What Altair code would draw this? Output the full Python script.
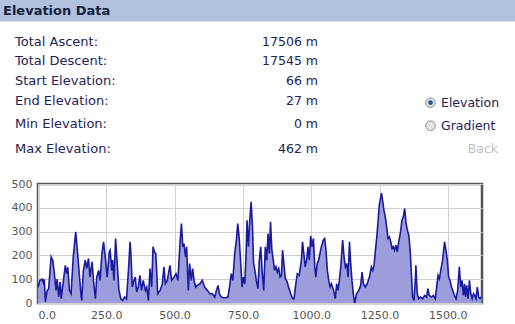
import altair as alt
import pandas as pd

# ---- data ----
dist_km = [0, 7, 15, 20, 23, 27, 33, 39, 48, 54, 60, 66, 70, 76, 81, 85, 90, 100, 105, 109,
           115, 121, 129, 138, 145, 151, 157, 160, 166, 173, 178, 185, 190, 198, 203, 210, 215,
           222, 227, 234, 240, 246, 253, 261, 264, 270, 273, 278, 284, 290, 296, 303, 310, 317,
           324, 331, 337, 340, 345, 351, 356, 361, 367, 373, 379, 385, 393, 398, 404, 410, 416,
           421, 426, 431, 434, 438, 447, 455, 461, 466, 473, 483, 489, 498, 505, 512, 520, 525,
           530, 534, 540, 544, 550, 555, 561, 566, 571, 577, 583, 593, 601, 610, 620, 629, 638,
           647, 653, 659, 664, 671, 678, 687, 695, 701, 707, 713, 720, 726, 731, 736, 742, 747,
           752, 757, 762, 765, 770, 775, 780, 785, 789, 794, 799, 805, 810, 815, 821, 826, 832,
           837, 842, 847, 851, 856, 861, 866, 871, 876, 881, 886, 891, 895, 900, 905, 910, 917,
           925, 932, 937, 942, 949, 956, 964, 968, 973, 978, 983, 988, 993, 998, 1003, 1008,
           1013, 1017, 1022, 1027, 1032, 1037, 1044, 1049, 1054, 1059, 1064, 1069, 1074, 1082,
           1088, 1093, 1098, 1103, 1108, 1115, 1120, 1125, 1130, 1135, 1140, 1144, 1149, 1154,
           1159, 1166, 1174, 1181, 1186, 1191, 1198, 1205, 1213, 1220, 1225, 1230, 1235, 1240,
           1245, 1249, 1257, 1261, 1266, 1271, 1276, 1281, 1286, 1291, 1296, 1300, 1305, 1310,
           1315, 1320, 1326, 1332, 1337, 1342, 1347, 1352, 1357, 1362, 1366, 1371, 1376, 1381,
           1383, 1388, 1393, 1400, 1408, 1415, 1422, 1427, 1432, 1440, 1447, 1454, 1459, 1464,
           1469, 1474, 1479, 1484, 1488, 1493, 1498, 1503, 1508, 1513, 1518, 1524, 1530, 1536,
           1542, 1547, 1552, 1557, 1561, 1565, 1569, 1574, 1579, 1584, 1589, 1594, 1598, 1603,
           1608, 1613, 1618, 1623]
elev_m = [66, 95, 100, 85, 100, 5, 50, 60, 194, 180, 123, 53, 100, 25, 88, 18, 67, 158, 123, 150,
          53, 39, 194, 299, 208, 123, 39, 11, 137, 180, 145, 187, 109, 173, 95, 18, 109,
          137, 95, 208, 257, 194, 109, 215, 222, 137, 180, 95, 271, 166, 56, 18, 11, 25,
          18, 137, 257, 208, 67, 95, 109, 46, 67, 116, 53, 95, 53, 67, 11, 145, 67,
          236, 215, 208, 145, 39, 53, 81, 152, 81, 95, 158, 95, 109, 123, 95, 257, 334,
          236, 250, 194, 236, 53, 166, 95, 145, 95, 67, 74, 81, 95, 67, 53, 39, 39,
          25, 53, 74, 39, 25, 22, 22, 25, 67, 123, 95, 208, 264, 334, 278, 166, 67,
          109, 81, 222, 348, 236, 348, 425, 320, 166, 137, 95, 60, 180, 236, 123, 53, 236,
          180, 292, 208, 341, 222, 180, 137, 152, 130, 145, 109, 116, 222, 166, 102, 95, 67,
          39, 18, 18, 67, 123, 116, 180, 257, 208, 152, 180, 236, 180, 281, 236, 271,
          152, 109, 166, 180, 208, 236, 264, 271, 222, 137, 95, 67, 81, 53,
          18, 81, 53, 95, 152, 264, 194, 152, 166, 109, 257, 173, 95, 39,
          0, 39, 53, 74, 130, 81, 67, 81, 109, 152, 137, 158, 222, 278,
          348, 411, 462, 432, 390, 362, 320, 271, 278, 257, 229, 236, 222, 243,
          215, 257, 292, 348, 362, 397, 334, 306, 285, 222, 137, 25, 11, 95,
          158, 39, 18, 25, 18, 32, 25, 60, 32, 25, 32, 18, 67, 116,
          102, 137, 166, 215, 257, 222, 180, 109, 95, 67, 53, 32, 18, 53,
          152, 67, 95, 32, 81, 25, 74, 18, 95, 39, 18, 39, 32, 18,
          67, 25, 18, 27]

stat_labels = ["Total Ascent:", "Total Descent:", "Start Elevation:",
               "End Elevation:", "Min Elevation:", "Max Elevation:"]
stat_values = ["17506 m", "17545 m", "66 m", "27 m", "0 m", "462 m"]
radio_labels = ["Elevation", "Gradient"]
x_ticks = [0, 250, 500, 750, 1000, 1250, 1500]
y_ticks = [0, 100, 200, 300, 400, 500]

# ---- layout (pixels) ----
PL, PT = 38, 184          # plot origin in the window
W, H = 444, 119
row_y = [41.7, 61, 80.7, 101.3, 124.3, 149]
radio_y = [102.7, 125.7]
FONT = "DejaVu Sans"
TXT = "#1e2257"

df = pd.DataFrame({"dist": dist_km, "elev": elev_m})
one = pd.DataFrame({"k": [0]})

xenc = alt.X("dist:Q", scale=alt.Scale(domain=[0, 1625], nice=False),
             axis=alt.Axis(values=x_ticks, format=".1f", title=None))
yenc = alt.Y("elev:Q", scale=alt.Scale(domain=[0, 500], nice=False),
             axis=alt.Axis(values=y_ticks, title=None))

area = alt.Chart(df).mark_area(color="#9d9ddb", opacity=1).encode(x=xenc, y=yenc)
line = alt.Chart(df).mark_line(color="#1a1a9e", strokeWidth=1.6).encode(x=xenc, y=yenc)

layers = []
# header bar
layers.append(alt.Chart(one).mark_rect(color="#b1c3dc").encode(
    x=alt.value(-PL), x2=alt.value(515 - PL), y=alt.value(-PT), y2=alt.value(21.5 - PT)))
layers.append(alt.Chart(pd.DataFrame({"t": ["Elevation Data"]})).mark_text(
    align="left", baseline="middle", font=FONT, fontSize=13, fontWeight="bold",
    color="#14213f").encode(x=alt.value(3 - PL), y=alt.value(11 - PT), text="t:N"))

for i in range(len(stat_labels)):
    layers.append(alt.Chart(pd.DataFrame({"t": [stat_labels[i]]})).mark_text(
        align="left", baseline="middle", font=FONT, fontSize=13, color=TXT).encode(
        x=alt.value(15 - PL), y=alt.value(row_y[i] - PT), text="t:N"))
    layers.append(alt.Chart(pd.DataFrame({"t": [stat_values[i]]})).mark_text(
        align="right", baseline="middle", font=FONT, fontSize=12.5, color=TXT).encode(
        x=alt.value(318 - PL), y=alt.value(row_y[i] - PT), text="t:N"))

for i in range(len(radio_labels)):
    layers.append(alt.Chart(one).mark_point(
        shape="circle", filled=True, fill="#e6e6e6", stroke="#8a8a8a",
        strokeWidth=1, size=90, opacity=1).encode(
        x=alt.value(430.5 - PL), y=alt.value(radio_y[i] - PT)))
    layers.append(alt.Chart(pd.DataFrame({"t": [radio_labels[i]]})).mark_text(
        align="left", baseline="middle", font=FONT, fontSize=12.5, color=TXT).encode(
        x=alt.value(441 - PL), y=alt.value(radio_y[i] - PT), text="t:N"))
layers.append(alt.Chart(one).mark_point(
    shape="circle", filled=True, color="#1d5c9c", size=22, opacity=1).encode(
    x=alt.value(430.5 - PL), y=alt.value(radio_y[0] - PT)))
layers.append(alt.Chart(pd.DataFrame({"t": ["Back"]})).mark_text(
    align="right", baseline="middle", font=FONT, fontSize=12.5, color="#bdbdbd").encode(
    x=alt.value(498 - PL), y=alt.value(149.3 - PT), text="t:N"))

chart = alt.layer(area, line, *layers).properties(
    width=W, height=H,
    autosize=alt.AutoSizeParams(type="none"),
    padding={"left": PL, "top": PT, "right": 515 - PL - W, "bottom": 324 - PT - H},
).configure_view(stroke="#555555", strokeWidth=2.5).configure_axis(
    labelFont=FONT, labelFontSize=11, labelColor="#555555",
    grid=True, gridColor="#cfcfcf", gridWidth=1,
    domain=False, ticks=False,
).configure_axisY(labelPadding=6).configure_axisX(labelPadding=6)

chart.save("out.html", embed_options={"renderer": "svg", "actions": False})
